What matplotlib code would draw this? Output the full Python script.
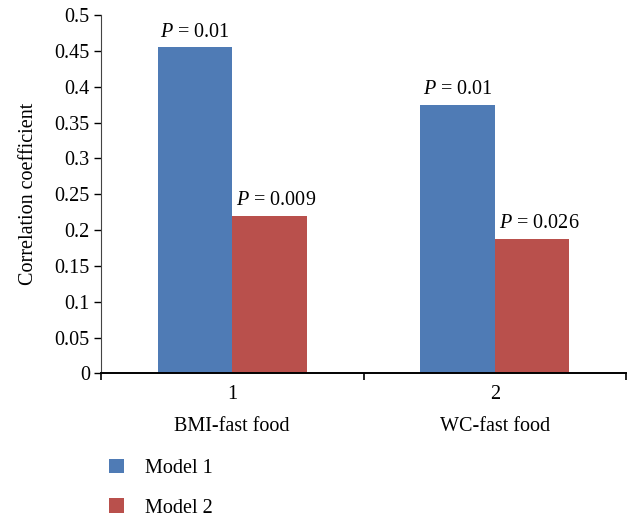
import matplotlib.pyplot as plt
from matplotlib.patches import Patch
import numpy as np

plt.rcParams['font.family'] = 'Liberation Serif'
plt.rcParams['mathtext.fontset'] = 'custom'
plt.rcParams['mathtext.rm'] = 'Liberation Serif'
plt.rcParams['mathtext.it'] = 'Liberation Serif:italic'

# data
group_numbers = ['1', '2']
categories = ['BMI-fast food', 'WC-fast food']
model1 = [0.455, 0.375]
model2 = [0.22, 0.188]
p_model1 = ['0.01', '0.01']
p_model2 = ['0.009', '0.026']

blue = '#4F7BB5'
red = '#B9504C'
fs = 14.5

fig = plt.figure(figsize=(6.27, 5.17), dpi=100)
ax = fig.add_axes([0.161, 0.2776, 0.8375, 0.6934])

x = np.arange(len(categories))
w = 0.284
b1 = ax.bar(x - w / 2, model1, w, color=blue, zorder=2)
b2 = ax.bar(x + w / 2, model2, w, color=red, zorder=2)

for rect, p in zip(b1, p_model1):
    ax.annotate(f'$P$ = {p}', (rect.get_x() + rect.get_width() / 2, rect.get_height()),
                xytext=(0, 4), textcoords='offset points', ha='center', va='bottom',
                fontsize=fs)
for rect, p in zip(b2, p_model2):
    ax.annotate(f'$P$ = {p}', (rect.get_x() + rect.get_width() / 2, rect.get_height()),
                xytext=(5, 4), textcoords='offset points', ha='center', va='bottom',
                fontsize=fs)

ax.set_xlim(-0.5, 1.5)
ax.set_ylim(0, 0.5)
ax.set_yticks(np.arange(0, 0.501, 0.05))
ax.set_yticklabels(['0'] + [f'{v:g}' for v in np.arange(0.05, 0.501, 0.05)], fontsize=fs)
ax.set_xticks(x)
ax.set_xticklabels(group_numbers, fontsize=fs)
ax.tick_params(axis='x', length=0, pad=8)
ax.set_xticks([-0.5, 0.5, 1.5], minor=True)
ax.tick_params(axis='x', which='minor', length=5, width=1.2, direction='out')
ax.tick_params(axis='y', length=5, width=1, direction='out', pad=3)

for xi, name in zip(x, categories):
    ax.text(xi, -0.147, name, ha='center', va='center', fontsize=fs,
            transform=ax.get_xaxis_transform())

ax.spines['top'].set_visible(False)
ax.spines['right'].set_visible(False)
ax.spines['left'].set_color('#444444')
ax.spines['bottom'].set_linewidth(1.4)

ax.set_ylabel('Correlation coefficient', fontsize=fs, labelpad=12)

handles = [Patch(facecolor=blue, edgecolor='none'), Patch(facecolor=red, edgecolor='none')]
fig.legend(handles, ['Model 1', 'Model 2'], loc='upper left',
           bbox_to_anchor=(0.174, 0.113), frameon=False, fontsize=fs,
           handlelength=0.75, handleheight=0.75, handletextpad=1.05,
           labelspacing=1.0, borderpad=0, borderaxespad=0)

fig.savefig('out.png', dpi=100)
